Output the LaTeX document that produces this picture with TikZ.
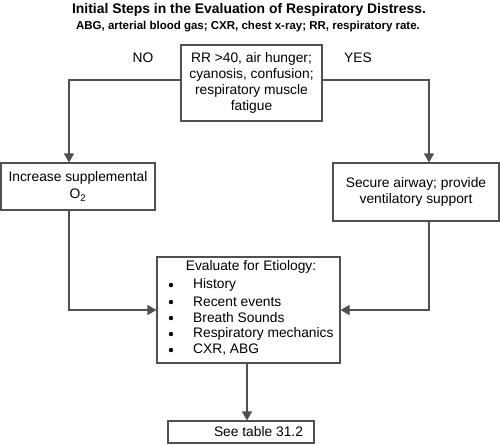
\documentclass[tikz,border=0pt]{standalone}
\usepackage{fontspec}
\setmainfont{Liberation Sans}
\usetikzlibrary{arrows.meta}
\definecolor{lc}{HTML}{505050}
\begin{document}
\begin{tikzpicture}[x=1pt,y=-1pt,
  box/.style={draw=lc, line width=1.1pt, inner sep=0pt, align=center},
  conn/.style={draw=lc, line width=1.1pt},
  arr/.style={conn, -{Triangle[length=9pt,width=10pt]}, shorten >=0pt},
  txt/.style={font=\fontsize{13.8}{16}\selectfont, inner sep=0pt}
  ]
\useasboundingbox (0,0) rectangle (500,445);
% title
\node[font=\bfseries\fontsize{13.9}{16}\selectfont, inner sep=0pt] (title) at (249,10) {Initial Steps in the Evaluation of Respiratory Distress.};
\node[font=\bfseries\fontsize{11.5}{13}\selectfont, inner sep=0pt] (sub) at (248,27) {ABG, arterial blood gas; CXR, chest x-ray; RR, respiratory rate.};
% boxes
\node[box, txt, minimum width=141, minimum height=76] (top) at (251.5,83)
  {RR >40, air hunger;\\ cyanosis, confusion;\\ respiratory muscle\\ fatigue};
\node[txt] (no) at (143,58) {NO};
\node[txt] (yes) at (358,58) {YES};
\node[box, txt, minimum width=154, minimum height=47] (left) at (78,186.5)
  {Increase supplemental\\[1pt] O\textsubscript{2}};
\node[box, txt, minimum width=166, minimum height=58] (right) at (416,192)
  {Secure airway; provide\\ ventilatory support};
\node[box, minimum width=183, minimum height=106] (eval) at (248.5,310) {};
\node[txt] (evh) at (251,267) {Evaluate for Etiology:};
\foreach \t/\y [count=\i] in {History/285, Recent events/302, Breath Sounds/318, Respiratory mechanics/334, {CXR, ABG}/350}{
  \fill (171,\y) circle (2.2);
  \node[txt, anchor=west] (it\i) at (193,\y) {\t};
}
\node[box, minimum width=146, minimum height=22] (see) at (241,432) {};
\node[txt] (seet) at (258.5,432) {See table 31.2};
% connectors
\draw[arr] ([yshift=3pt]top.west) -| ([xshift=-9pt]left.north);
\draw[arr] ([yshift=3pt]top.east) -| ([xshift=13pt]right.north);
\draw[arr] ([xshift=-9pt]left.south) |- (eval.west);
\draw[arr] ([xshift=13pt]right.south) |- (eval.east);
\draw[arr] ([xshift=-1.5pt]eval.south) -- ([xshift=6pt]see.north);
\end{tikzpicture}
\end{document}
